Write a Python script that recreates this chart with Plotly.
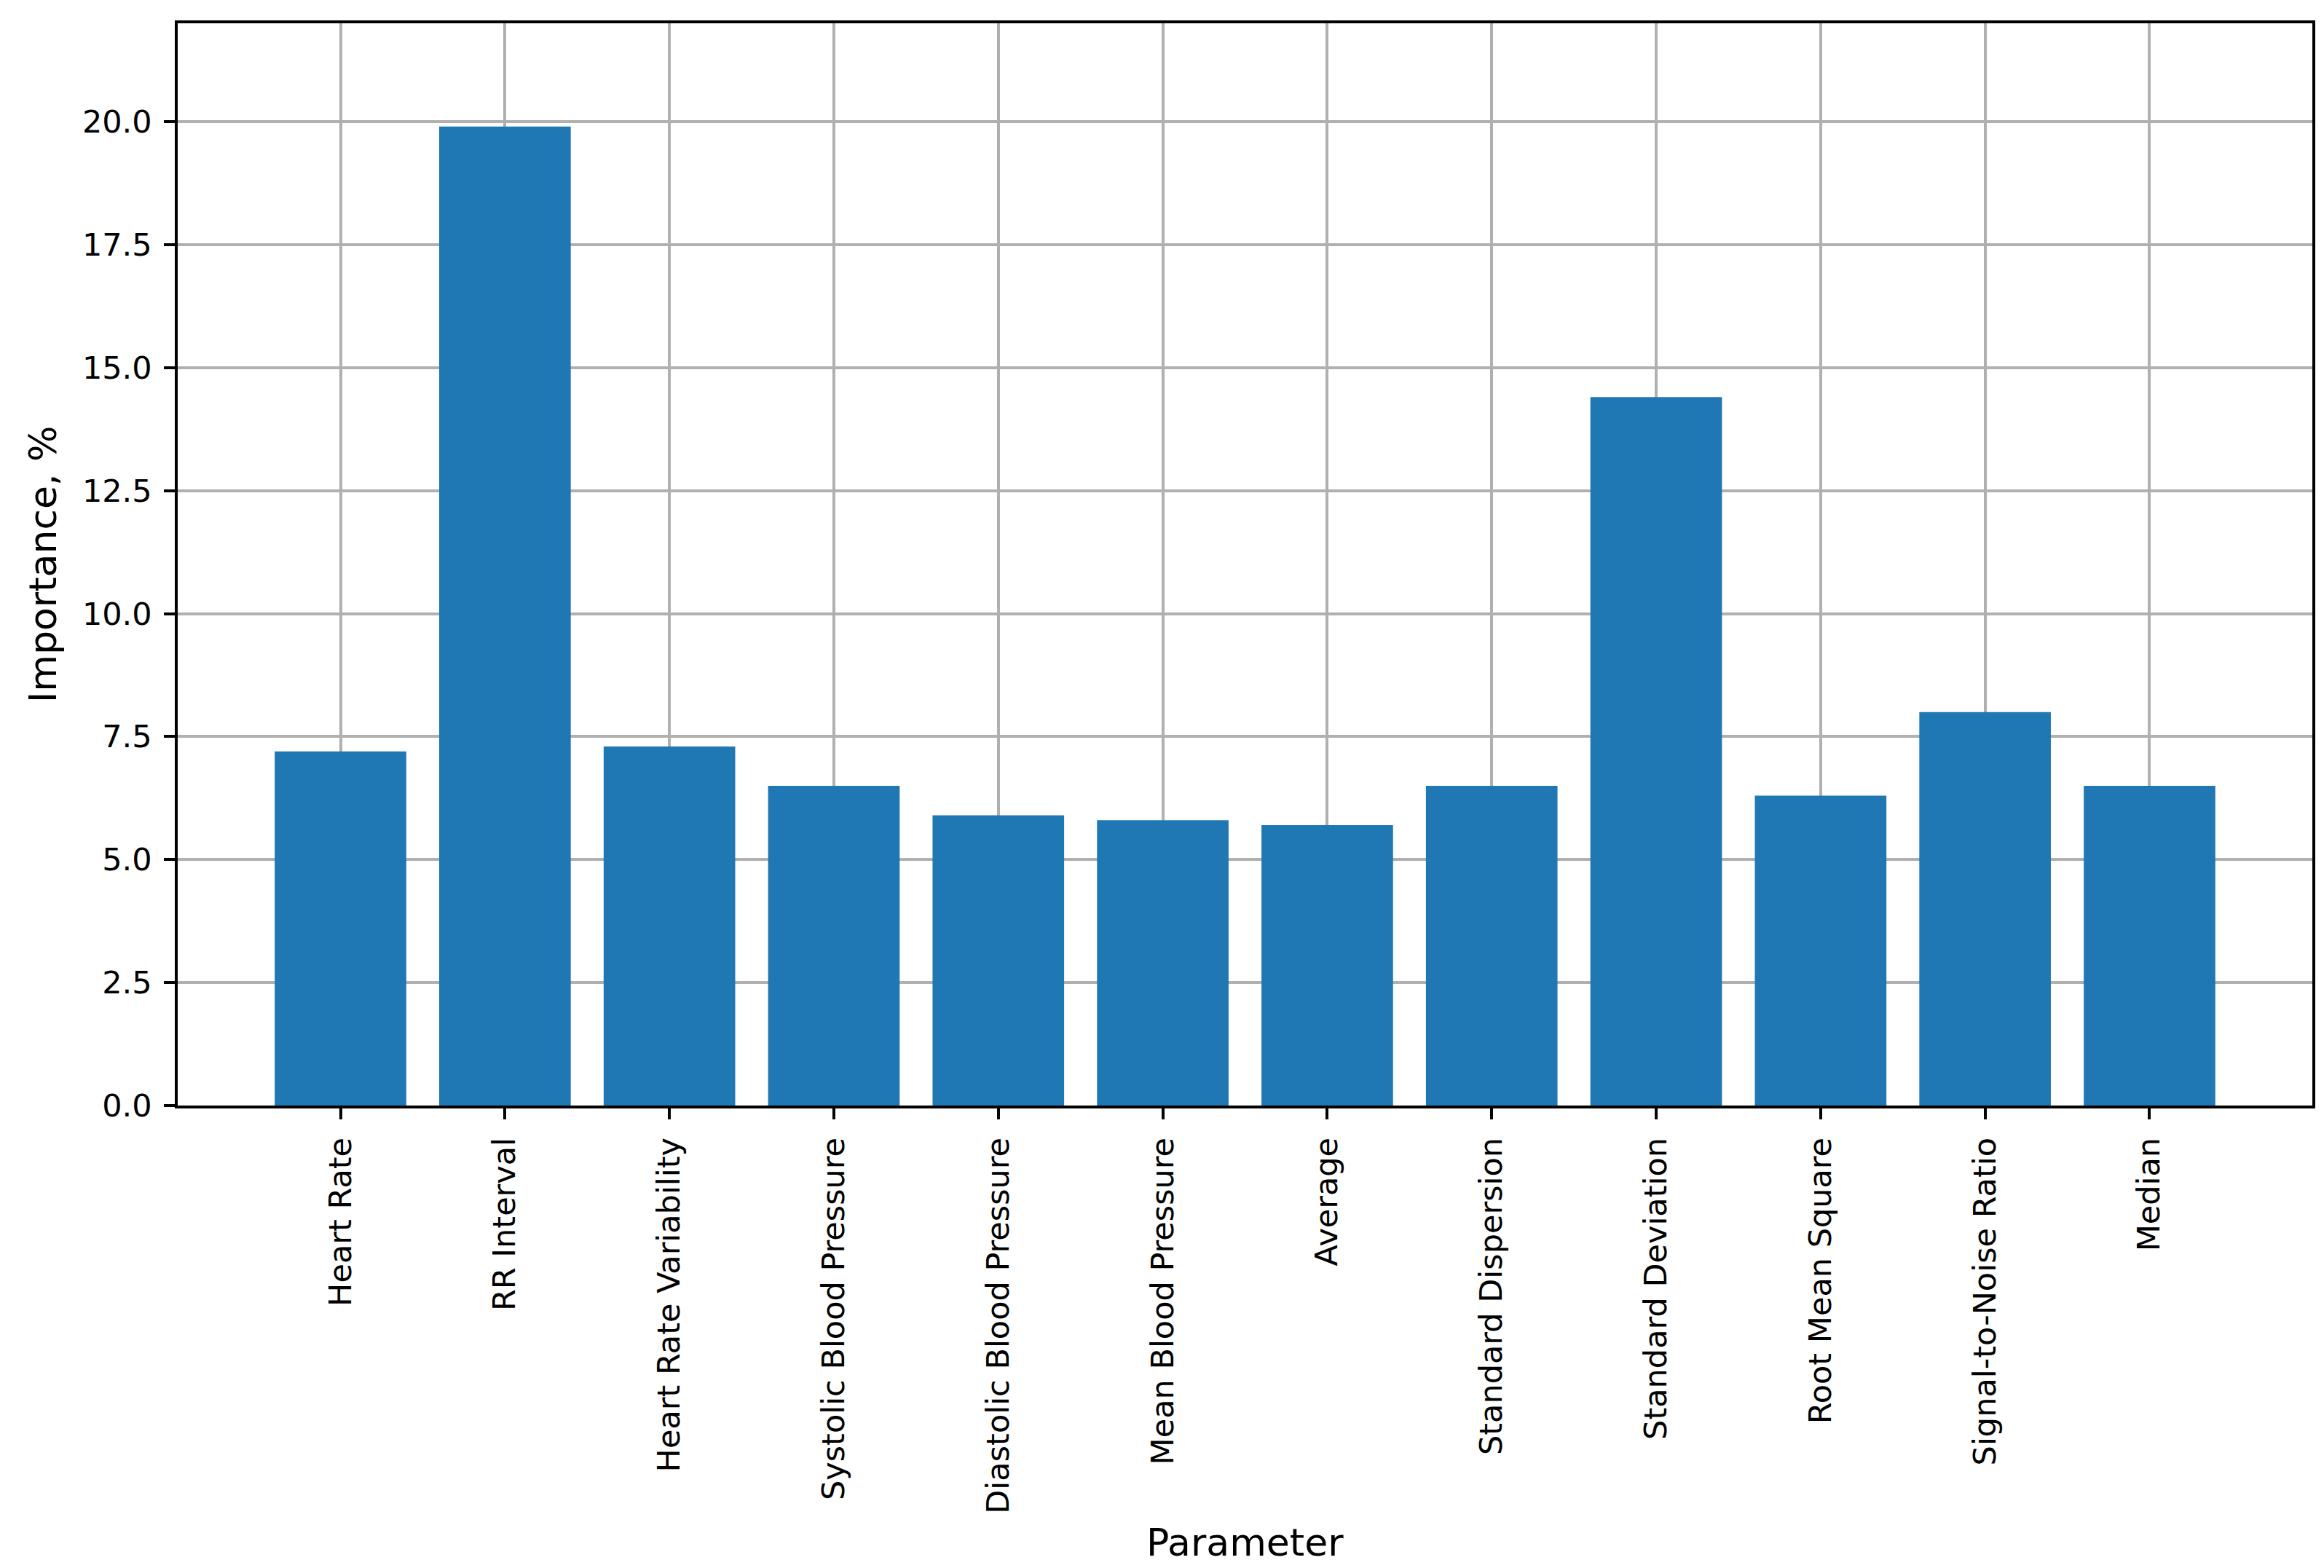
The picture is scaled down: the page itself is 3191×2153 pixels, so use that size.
import plotly.graph_objects as go

categories = ["Heart Rate", "RR Interval", "Heart Rate Variability", "Systolic Blood Pressure",
              "Diastolic Blood Pressure", "Mean Blood Pressure", "Average", "Standard Dispersion",
              "Standard Deviation", "Root Mean Square", "Signal-to-Noise Ratio", "Median"]
importance = [7.2, 19.9, 7.3, 6.5, 5.9, 5.8, 5.7, 6.5, 14.4, 6.3, 8.0, 6.5]
y_ticks = [0.0, 2.5, 5.0, 7.5, 10.0, 12.5, 15.0, 17.5, 20.0]
y_tick_text = ["0.0", "2.5", "5.0", "7.5", "10.0", "12.5", "15.0", "17.5", "20.0"]

W, H = 3191, 2153
L, R, T, B = 236, 24, 24, 643
FONT = "DejaVu Sans"

fig = go.Figure(go.Bar(x=categories, y=importance, marker=dict(color="#1f77b4", line=dict(width=0)),
                       width=0.8))

axis_common = dict(showline=True, linecolor="black", linewidth=3.5, mirror=True,
                   ticks="outside", ticklen=15, tickwidth=3.5, tickcolor="black",
                   showgrid=True, gridcolor="#b0b0b0", gridwidth=3.5, zeroline=False,
                   tickfont=dict(family=FONT, size=43, color="black"))

fig.update_xaxes(**axis_common, type="category", range=[-0.99, 11.99], tickangle=-90,
                 ticklabelstandoff=8)
fig.update_yaxes(**axis_common, range=[0, 22], tickvals=y_ticks, ticktext=y_tick_text,
                 ticklabelstandoff=8)

pw = W - L - R
ph = H - T - B
fig.add_annotation(text="Parameter", xref="paper", yref="paper", x=0.5, y=(1510 - 2110) / ph,
                   xanchor="center", yanchor="middle", showarrow=False,
                   font=dict(family=FONT, size=52, color="black"))
fig.add_annotation(text="Importance, %", xref="paper", yref="paper", x=(51 - L) / pw, y=0.5,
                   xanchor="center", yanchor="middle", textangle=-90, showarrow=False,
                   font=dict(family=FONT, size=52, color="black"))

fig.update_layout(width=W, height=H, margin=dict(l=L, r=R, t=T, b=B, autoexpand=False),
                  plot_bgcolor="white", paper_bgcolor="white", showlegend=False,
                  font=dict(family=FONT))
fig.write_html("out.html")
